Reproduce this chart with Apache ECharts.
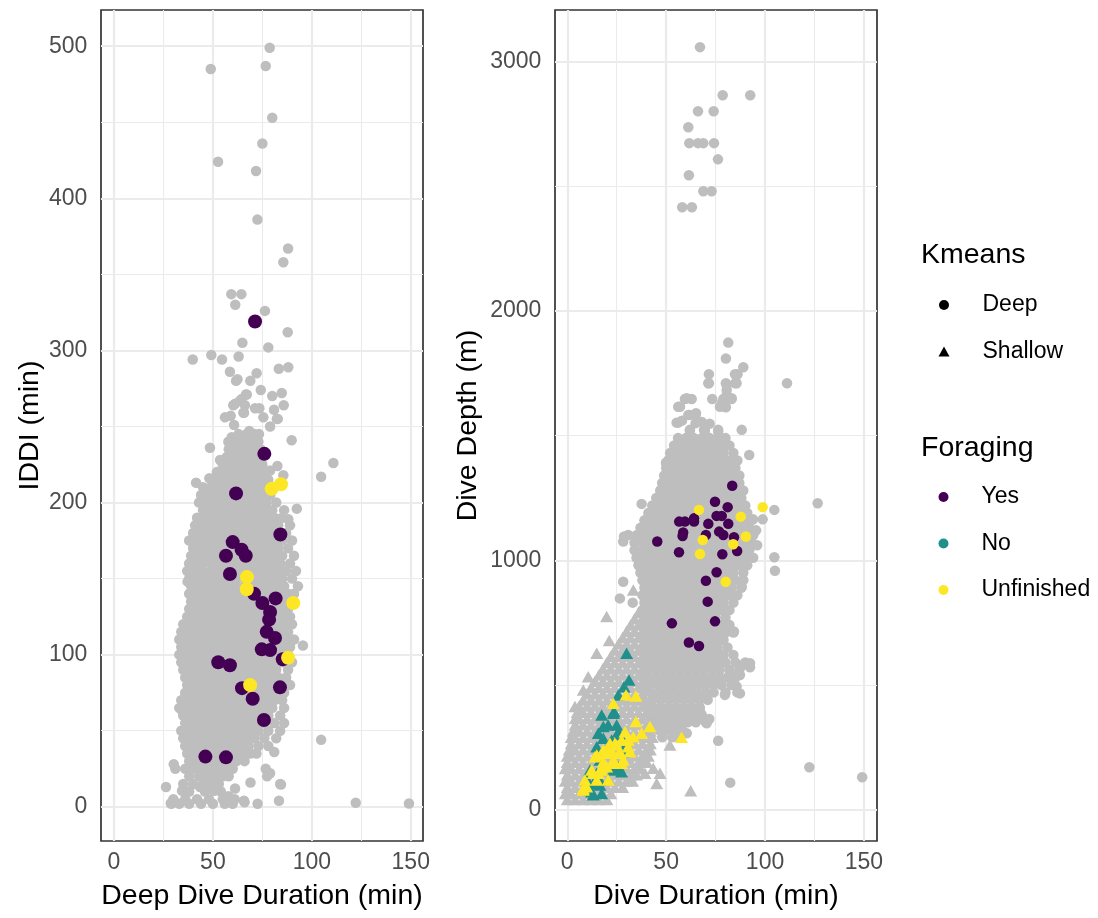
<!DOCTYPE html>
<html><head><meta charset="utf-8">
<script src="https://cdn.jsdelivr.net/npm/echarts@6/dist/echarts.min.js"></script>
<style>html,body{margin:0;padding:0;background:#fff}#c{width:1098px;height:918px}</style>
</head><body><div id="c"></div><script>
const FONT = '"Liberation Sans", Arial, Helvetica, sans-serif';

// ---- axis ticks / grid values ----
const xTicks = [0, 50, 100, 150];
const xMinor = [25, 75, 125];
const leftYTicks = [0, 100, 200, 300, 400, 500];
const leftYMinor = [50, 150, 250, 350, 450];
const rightYTicks = [0, 1000, 2000, 3000];
const rightYMinor = [500, 1500, 2500];
const kmeansLevels = ['Deep', 'Shallow'];
const foragingLevels = ['Yes', 'No', 'Unfinished'];

// ---- LEFT panel: Deep Dive Duration (min) vs IDDI (min) ----
// dense cloud, rows: [IDDI, duration, duration, ...]
const leftGrayRows = [
 [245,63,67,71],[240,61,65,69,73],[235,58,62,66,70,74],[230,57,61,65,69,73],
 [225,55,59,63,67,71,75],[220,52,57,61,64,68,72,76],[215,50,54,58,62,66,70,74,78],
 [210,45,49,53,57,61,65,69,73,77,81],
 [205,44,48,52,56,59,63,67,71,75,79],
 [200,43,47,51,55,58,62,66,70,73,77,82],
 [195,45,49,53,57,60,64,68,72,76,80,86],
 [190,42,46,50,54,58,62,65,69,73,77,81,85],
 [185,41,45,49,53,56,60,64,68,72,75,79,83,89],
 [180,40,44,48,51,55,59,63,67,70,74,78,82,87],
 [175,38,42,46,50,54,58,61,65,69,73,77,81,85,90],
 [170,40,44,48,52,56,60,63,67,71,75,79,83,88],
 [165,39,43,47,51,54,58,62,66,70,74,77,81,85,91],
 [160,38,42,45,49,53,57,61,65,68,72,76,80,84,89],
 [155,37,41,45,49,52,56,60,64,68,71,75,79,83,87,92],
 [150,38,42,46,50,54,58,62,66,69,73,77,81,85,90],
 [145,39,43,47,51,55,59,62,66,70,74,78,82,86,93],
 [140,38,41,45,49,53,57,61,64,68,72,76,80,84,88,91],
 [135,39,43,47,51,55,58,62,66,70,74,78,82,86,90],
 [130,38,42,46,50,53,57,61,65,69,73,76,80,84,88],
 [125,37,41,44,48,52,56,60,64,67,71,75,79,83,86,89],
 [120,35,39,43,47,51,55,58,62,66,70,74,78,82,86,90],
 [115,34,38,42,46,49,53,57,61,65,69,72,76,80,84,88],
 [110,33,37,41,45,48,52,56,60,64,68,71,75,79,83,87,91],
 [105,34,38,42,46,50,54,57,61,65,69,73,77,81,85,89],
 [100,33,37,41,44,48,52,56,60,63,67,71,75,79,84,88],
 [95,34,38,42,46,50,54,58,62,65,69,73,77,81,85,90],
 [90,35,39,43,47,51,55,59,63,66,70,74,78,82,88],
 [85,36,40,44,48,52,56,60,64,67,71,75,79,83,87],
 [80,37,41,45,49,53,57,61,64,68,72,76,80,84,89],
 [75,36,40,44,48,52,55,59,63,67,71,75,79,82,86],
 [70,34,38,42,46,50,54,58,62,65,69,73,77,81,85],
 [65,33,37,41,45,49,53,56,60,64,68,72,76,80,86],
 [60,35,39,43,47,51,55,59,62,66,70,74,78,84],
 [55,36,40,44,48,52,56,60,64,68,72,76,81,86],
 [50,34,38,42,46,50,54,58,61,65,69,73,78,84],
 [45,35,39,43,47,51,55,59,63,67,71,76,82],
 [40,36,40,44,48,52,56,60,64,68,73,78],
 [35,37,41,45,49,53,57,61,65,69,72],
 [30,38,42,46,50,54,58,62,66],
 [25,36,40,44,48,52,56,60],
 [20,38,43,47,51,55,58],
 [15,35,40,45,49,53],
 [10,38,46,54],
 [5,30,36,42,48,55,61],
 [2,29,33,38,44,50,56,60]
];
const leftGrayExtra = [
 [78.7,499],[48.9,485],[76.7,487],[80.0,453],[75.0,436],[52.6,424],[71.8,418],[72.5,386],
 [88.0,367],[85.6,358],[59.3,337],[64.4,337],[61.3,330],[76.3,326],[87.8,312],[64.9,305],
 [78.0,302],[39.8,294],[49.2,297],[54.6,294],[63.0,296],[83.3,288],[88.1,289],[58.6,286],
 [72.1,285],[61.7,280],[62.4,281],[68.9,280],[74.2,274],[80.0,270],[84.8,272],[85.8,264],
 [67.1,271],[61.2,265],[64.5,268],[65.7,259],[73.5,262],[75.5,256],[80.9,261],[82.8,255],
 [56.1,256],[59.0,257],[60.7,251],[78.9,250],[68.4,247],[66.7,271],[63.7,267],[60.3,264],
 [66.2,264],[71.3,262],[65.4,259],[82.3,255],[89.8,241],[73.3,245],[59.5,243],[57.8,240],
 [48.5,236],[68.8,237],[63.7,232],[72.1,231],[53.6,228],[66.2,228],[78.9,221],[82.6,224],
 [85.6,218],[55.3,219],[48.2,216],[41.5,213],[51.9,210],[46.9,208],[92.4,196],[88.1,189],
 [104.7,217],[110.9,226],[95.5,106],[84.0,15],[81.0,36],[76.7,25],[78.9,22],[65.7,4],
 [72.6,2],[83.4,4],[122.2,2.6],[149.1,2.2],[26.3,13],[31.0,25],[34.0,64],[37.8,84],
 [37.2,148],[104.7,44],[84.4,14.7],[66.0,3],[57.9,7],[50.6,10.5],[43.5,13],[34.4,10.5],
 [28.7,2.3],[30.2,28],[69.0,16],[77.4,20],[61.2,12]
];
const leftYes = [
 [71.3,319],[76.0,232],[61.7,206],[84.1,179],[60.0,174],[64.5,169],[66.6,165],[56.6,165],
 [58.6,153],[70.8,140],[75.0,134],[81.7,137],[78.9,128],[78.4,123],[77.2,115],[81.4,111],
 [74.7,103.5],[78.9,103],[85.3,97],[52.7,95],[58.6,93],[64.7,78],[83.9,78.5],[70.1,71],
 [75.8,57],[46.2,33],[56.6,32.5]
];
const leftUnfinished = [[79.7,209],[84.4,212],[67.2,151],[67.1,143],[90.6,134],[88.0,98],[68.8,80]];

// ---- RIGHT panel: Dive Duration (min) vs Dive Depth (m) ----
// deep-cluster circles, rows: [depth, duration, ...]
const rightDeepGrayRows = [
 [1490,56,60,64,68,72,76,80],
 [1460,54,58,62,66,70,74,78,82],
 [1430,52,56,60,64,67,71,75,79,84],
 [1400,51,55,59,62,66,70,74,78,82,86],
 [1370,50,54,57,61,65,69,73,77,81,85],
 [1340,49,53,56,60,64,68,72,76,80,84,87],
 [1310,48,52,56,59,63,67,71,75,79,83,87],
 [1280,47,51,54,58,62,66,70,74,78,82,86,89],
 [1250,45,49,53,57,60,64,68,72,76,80,84,88],
 [1220,43,47,51,55,59,63,66,70,74,78,82,86,90],
 [1190,41,45,49,53,57,61,65,68,72,76,80,84,88,91],
 [1160,39,43,47,51,55,58,62,66,70,74,78,82,86,90,93],
 [1130,37,41,45,49,53,57,61,64,68,72,76,80,84,88,92],
 [1100,35,39,43,47,51,55,59,63,66,70,74,78,82,86,90,94],
 [1070,34,38,42,46,50,54,57,61,65,69,73,77,81,85,89,93],
 [1040,34,38,41,45,49,53,57,61,64,68,72,76,80,84,88,92],
 [1010,35,39,43,47,51,55,58,62,66,70,74,78,82,86,90,94],
 [980,36,40,44,48,52,56,60,63,67,71,75,79,83,87,91],
 [950,37,41,45,49,53,57,61,65,68,72,76,80,84,89],
 [920,38,42,46,50,54,58,62,66,70,73,77,81,85,89],
 [890,39,43,47,51,55,59,63,67,71,75,79,83,88],
 [860,38,42,46,50,54,58,62,66,70,74,78,82,86],
 [830,39,43,47,51,55,59,63,67,71,75,79,84],
 [800,38,42,46,50,54,58,62,66,70,74,78,82],
 [770,39,43,47,51,55,59,63,67,71,75,80],
 [740,38,42,46,50,54,58,62,66,70,74,78,82],
 [710,40,44,48,52,56,60,64,68,72,76,80,84],
 [680,39,43,47,51,55,59,63,67,71,75,79],
 [650,40,44,48,52,56,60,64,68,72,76,81],
 [620,39,43,47,51,55,59,63,67,71,75,79,84],
 [590,40,44,48,52,56,60,64,68,72,76,80,85,90],
 [560,41,45,49,53,57,61,65,69,73,77,82,87],
 [530,41,45,49,53,57,61,65,69,73,77,81,85],
 [500,42,46,50,54,58,62,66,70,74,78,83],
 [470,42,46,50,54,58,62,66,70,74,80,86],
 [440,43,47,51,55,59,63,67,71],
 [410,43,47,51,55,59,63,67],
 [380,44,48,52,56,60,64,68],
 [350,45,49,53,57,61,65,70],
 [320,46,50,54,58],
 [290,48,53,56]
];
const rightDeepGrayExtra = [
 [67.1,3058],[78.6,2865],[92.5,2865],[66.1,2801],[74.0,2801],[61.2,2737],[61.7,2673],[66.1,2673],
 [68.8,2673],[74.2,2673],[76.2,2608],[61.5,2544],[68.8,2480],[73.0,2480],[58.1,2416],[63.0,2416],
 [81.4,1873],[80.2,1809],[89.0,1774],[71.6,1746],[84.8,1746],[86.1,1746],[71.6,1710],[80.2,1710],
 [84.9,1710],[111.1,1710],[80.6,1683],[59.5,1647],[62.9,1647],[73.3,1647],[78.9,1647],[83.1,1647],
 [57.0,1616],[77.2,1616],[80.2,1614],[61.2,1583],[64.9,1583],[55.3,1552],[64.9,1550],[62.0,1523],
 [69.1,1523],[76.3,1523],[88.2,1523],[92.0,1422],[49.9,1391],[71.3,1710],[80.6,1703],[85.6,1710],
 [80.6,1663],[83.1,1650],[78.1,1630],[79.7,1616],[56.1,1616],[60.4,1650],[62.0,1583],[65.1,1590],
 [56.1,1552],[62.0,1520],[69.6,1520],[76.3,1516],[58,1560],[68,1555],[72,1548],
 [122.4,170],[149.1,130],[82.4,108],[76.3,276],[69.7,359],[71.8,363],[126.6,1229],[104.7,1202],
 [104.7,1012],[105.0,958],[98.8,1164],[94.0,1164],[88.2,894],[84.3,714],[88.7,580],[92.4,571],
 [87.3,540],[83.1,533],[79.7,460],[87.3,466],[37.6,1226],[28.3,1075],[30.8,1101],[36.7,1101],
 [28.3,914],[26.6,847],[33.1,830],[28.7,1095],[60.4,306],[92.4,587],[84.0,534],[85.6,494],
 [70.5,346],[67.0,400],[95.5,1120],[96,1060]
];
// shallow-cluster triangles, rows: [depth, duration, ...]
const rightShallowGrayRows = [
 [40,0,4,8,12,16,20],
 [65,-1,2,6,10,14,18,22],
 [90,0,4,8,12,16,20,24,28],
 [115,-1,2,6,10,14,18,22,26,30,33],
 [140,0,4,8,12,16,20,24,28,32,35],
 [165,-1,2,6,10,14,18,22,26,30,34,37],
 [190,0,4,8,12,16,20,24,28,32,36,39],
 [215,0,2,6,10,14,18,22,26,30,34,38,41],
 [240,1,4,8,12,16,20,24,28,32,36,40,42],
 [265,2,6,10,14,18,22,26,30,34,38,42],
 [290,2,4,8,12,16,20,24,28,32,36,40,43],
 [315,3,6,10,14,18,22,26,30,34,38,42],
 [340,4,8,12,16,20,24,28,32,36,40,43],
 [365,4,6,10,14,18,22,26,30,34,38,41],
 [390,5,8,12,16,20,24,28,32,36,40],
 [415,6,10,14,18,22,26,30,34,38,41],
 [440,8,12,16,20,24,28,32,36,39],
 [465,10,14,18,22,26,30,34,38],
 [490,12,16,20,24,28,32,36,39],
 [515,14,18,22,26,30,34,38],
 [540,16,20,24,28,32,36,39],
 [565,18,22,26,30,34,38],
 [590,20,24,28,32,36,39],
 [615,22,26,30,34,38],
 [640,24,28,32,36,39],
 [665,26,30,34,38],
 [690,28,32,36,40],
 [715,30,34,38],
 [740,32,36,40],
 [765,34,38],
 [790,36,40]
];
const rightShallowGrayExtra = [
 [19.9,774],[21.2,678],[14.9,627],[10.6,533],[8.1,480],[3.9,413],[51.9,259],[62.4,76],
 [45.2,105],[46.9,146],[43.5,166],[39.3,146],[40.1,192],[33.4,881]
];
const rightYes = [
 [83.4,1299],[74.7,1235],[81.1,1213],[75.5,1178],[78.1,1178],[64.1,1168],[56.6,1155],[59.5,1155],
 [64.1,1155],[71.3,1146],[81.4,1146],[58.6,1111],[58.3,1097],[76.8,1115],[78.9,1101],[70.1,1101],
 [84.3,1092],[45.5,1075],[85.9,1037],[56.5,1032],[78.4,1024],[75.5,952],[70.1,918],[71.0,834],
 [74.7,755],[52.9,747],[61.5,670],[66.6,656]
];
const rightUnfinishedDeep = [[66.6,1202],[98.8,1213],[87.7,1175],[90.3,1095],[68.5,1081],[83.9,1064],[67.1,1025],[80.1,914]];
const rightNoShallow = [
 [30.0,627],[31.2,520],[28.7,493],[25.8,460],[23.3,386],[17.4,379],[23.6,393],[18.2,333],
 [20.7,339],[25.0,339],[25.8,312],[15.7,306],[18.2,286],[22.4,279],[26.6,299],[14.9,252],
 [29.2,252],[16.5,199],[25.8,172],[27.5,152],[23.3,159],[11.5,159],[14.9,146],[9.8,126],
 [13.1,105],[16.5,99],[11.5,79],[17.4,65],[13.1,59],[28.3,232],[16.5,119],[9.8,119],[12.3,72]
];
const rightUnfinishedShallow = [
 [29.7,460],[34.7,456],[23.3,426],[34.7,353],[41.8,333],[29.2,312],[30.8,279],[37.6,306],
 [33.4,292],[57.8,290],[21.6,266],[25.0,259],[18.2,239],[22.4,226],[26.6,226],[31.7,232],
 [14.0,212],[18.2,192],[23.3,186],[27.5,186],[12.3,159],[15.7,146],[20.7,119],[14.9,119],
 [8.9,119],[8.1,85],[27.5,279],[24.1,266],[30.8,252],[21.6,246],[26.6,232],[14.9,219],
 [19.1,226],[23.3,199],[28.3,199],[19.9,172],[13.1,146],[17.4,159],[9.8,92],[8.1,79]
];

// ---- helpers ----
const fromRows = rows => rows.flatMap(([y, ...xs]) => xs.map(x => [x, y]));
const GRAY = '#BEBEBE';
const COL = {Yes: '#440154', No: '#21908C', Unfinished: '#FDE725'};

function gridLines(xs, xm, ys, ym) {
  const maj = {color: '#EBEBEB', width: 2.2, type: 'solid'};
  const mi = {color: '#EBEBEB', width: 1.1, type: 'solid'};
  return {
    silent: true, symbol: ['none', 'none'], z: 1, animation: false,
    label: {show: false}, emphasis: {disabled: true},
    data: [
      ...xm.map(v => ({xAxis: v, lineStyle: mi})),
      ...ym.map(v => ({yAxis: v, lineStyle: mi})),
      ...xs.map(v => ({xAxis: v, lineStyle: maj})),
      ...ys.map(v => ({yAxis: v, lineStyle: maj}))
    ]
  };
}

function xAxisCfg(gi, min, max, name) {
  return {
    gridIndex: gi, type: 'value', min: min, max: max,
    splitLine: {show: false}, axisLine: {show: false},
    axisTick: {show: true, length: 7, customValues: xTicks, lineStyle: {color: '#333333', width: 1.7}},
    axisLabel: {customValues: xTicks, color: '#4D4D4D', fontSize: 23, fontFamily: FONT, margin: 10.5,
                formatter: v => String(v)},
    name: name, nameLocation: 'middle', nameGap: 41,
    nameTextStyle: {color: '#000', fontSize: 28.5, fontFamily: FONT}
  };
}
function yAxisCfg(gi, min, max, ticks, name, gap) {
  return {
    gridIndex: gi, type: 'value', min: min, max: max,
    splitLine: {show: false}, axisLine: {show: false},
    axisTick: {show: true, length: 7, customValues: ticks, lineStyle: {color: '#333333', width: 1.7}},
    axisLabel: {customValues: ticks, color: '#4D4D4D', fontSize: 23, fontFamily: FONT, margin: 13.7,
                formatter: v => String(v)},
    name: name, nameLocation: 'middle', nameGap: gap,
    nameTextStyle: {color: '#000', fontSize: 28.5, fontFamily: FONT}
  };
}

const chart = echarts.init(document.getElementById('c'), null, {renderer: 'canvas'});

function pts(name, xi, data, symbol, size, color, z, extra) {
  return Object.assign({type: 'scatter', name: name, xAxisIndex: xi, yAxisIndex: xi, z: z, silent: true,
    data: data, symbol: symbol, symbolSize: size, itemStyle: {color: color, opacity: 1}}, extra || {});
}

const TRI = [13, 11.5];
const series = [
  // left panel
  pts('leftGray', 0, fromRows(leftGrayRows).concat(leftGrayExtra), 'circle', 10.5, GRAY, 3,
      {markLine: gridLines(xTicks, xMinor, leftYTicks, leftYMinor)}),
  pts('leftYes', 0, leftYes, 'circle', 14, COL.Yes, 4),
  pts('leftUnfinished', 0, leftUnfinished, 'circle', 14, COL.Unfinished, 5),
  // right panel
  pts('rightShallowGray', 1, fromRows(rightShallowGrayRows).concat(rightShallowGrayExtra), 'triangle', TRI, GRAY, 2,
      {markLine: gridLines(xTicks, xMinor, rightYTicks, rightYMinor)}),
  pts('rightDeepGray', 1, fromRows(rightDeepGrayRows).concat(rightDeepGrayExtra), 'circle', 10.5, GRAY, 3),
  pts('rightYes', 1, rightYes, 'circle', 10.5, COL.Yes, 4),
  pts('rightUnfDeep', 1, rightUnfinishedDeep, 'circle', 10.5, COL.Unfinished, 5),
  pts('rightNo', 1, rightNoShallow, 'triangle', TRI, COL.No, 4),
  pts('rightUnfShallow', 1, rightUnfinishedShallow, 'triangle', TRI, COL.Unfinished, 5),
  // legend keys
  pts('Deep', 1, [], 'circle', 10, '#000', 1),
  pts('Shallow', 1, [], 'triangle', 10, '#000', 1),
  pts('Yes', 1, [], 'circle', 10, COL.Yes, 1),
  pts('No', 1, [], 'circle', 10, COL.No, 1),
  pts('Unfinished', 1, [], 'circle', 10, COL.Unfinished, 1)
];

const legendText = {fontSize: 23, color: '#000', fontFamily: FONT, lineHeight: 26, padding: [0, 0, 0, 28]};

chart.setOption({
  animation: false,
  backgroundColor: '#fff',
  title: [
    {text: 'Kmeans', left: 921, top: 240.5, padding: 0, textStyle: {fontSize: 28.5, fontWeight: 'normal', color: '#000', fontFamily: FONT}},
    {text: 'Foraging', left: 921, top: 434, padding: 0, textStyle: {fontSize: 28.5, fontWeight: 'normal', color: '#000', fontFamily: FONT}}
  ],
  legend: [
    {data: kmeansLevels, orient: 'vertical', left: 938.5, top: 292, padding: 0, itemWidth: 11, itemHeight: 10,
     itemGap: 20.5, selectedMode: false, textStyle: legendText, itemStyle: {opacity: 1}},
    {data: foragingLevels, orient: 'vertical', left: 938.5, top: 484, padding: 0, itemWidth: 10, itemHeight: 10,
     itemGap: 20.5, selectedMode: false, textStyle: legendText, itemStyle: {opacity: 1}}
  ],
  grid: [
    {left: 101, top: 10, width: 322, height: 831, show: true, borderColor: '#333333', borderWidth: 1.7, backgroundColor: 'transparent'},
    {left: 555, top: 10, width: 322, height: 831, show: true, borderColor: '#333333', borderWidth: 1.7, backgroundColor: 'transparent'}
  ],
  xAxis: [
    xAxisCfg(0, -6.57, 156.2, 'Deep Dive Duration (min)'),
    xAxisCfg(1, -6.2, 156.6, 'Dive Duration (min)')
  ],
  yAxis: [
    yAxisCfg(0, -22.5, 523.8, leftYTicks, 'IDDI (min)', 56.7),
    yAxisCfg(1, -126, 3207, rightYTicks, 'Dive Depth (m)', 72.7)
  ],
  series: series
});
</script></body></html>
